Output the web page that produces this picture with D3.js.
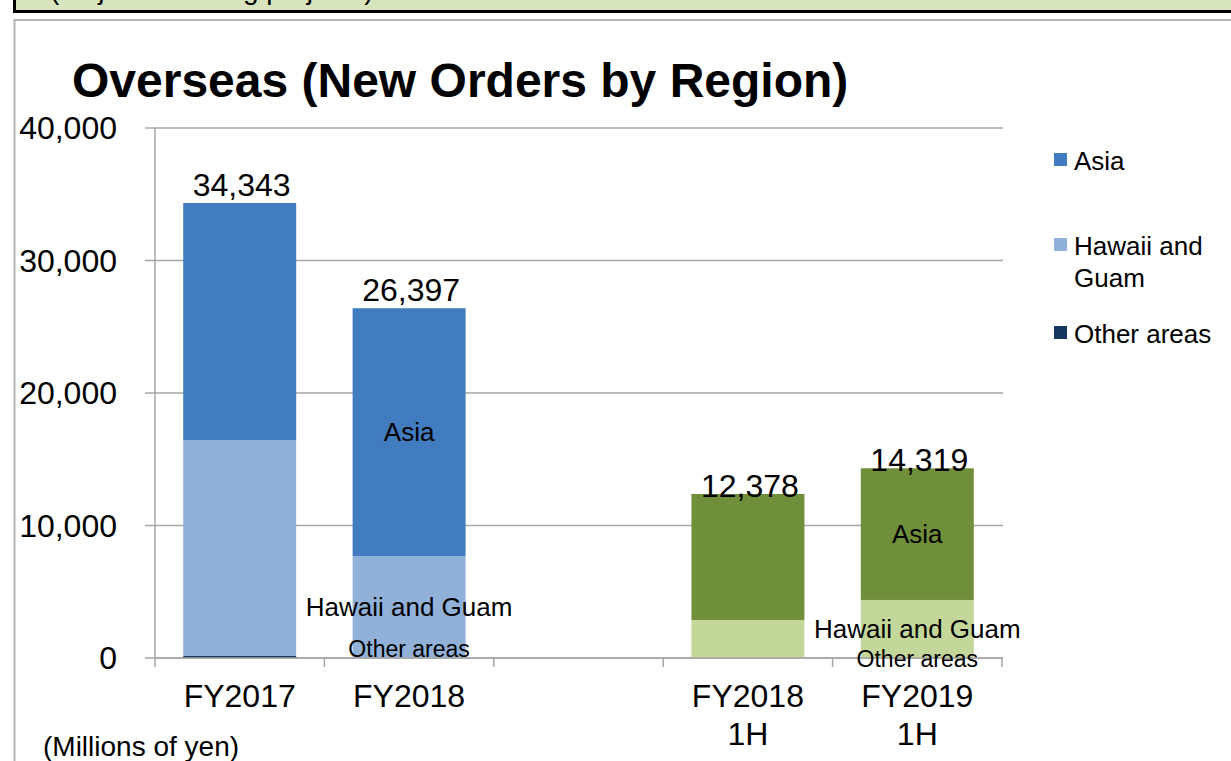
<!DOCTYPE html>
<html>
<head>
<meta charset="utf-8">
<script src="https://cdn.jsdelivr.net/npm/d3@7"></script>
<style>
  body { margin: 0; background: #fff; }
  text { font-family: "Liberation Sans", Arial, sans-serif; fill: #000; }
</style>
</head>
<body>
<div id="chart"></div>
<script>
// data (millions of yen)
const categories = ["FY2017", "FY2018", "gap", "FY2018 1H", "FY2019 1H"];
const categoryLabels = [["FY2017"], ["FY2018"], [], ["FY2018", "1H"], ["FY2019", "1H"]];
const asia = [17893, 18697, 0, 9508, 9939];
const hawaiiGuam = [16300, 7700, 0, 2870, 4380];
const otherAreas = [150, 0, 0, 0, 0];
const totals = [34343, 26397, null, 12378, 14319];
const yTicks = [0, 10000, 20000, 30000, 40000];
const seriesKeys = ["other", "hawaii", "asia"];
const seriesNames = { asia: "Asia", hawaii: "Hawaii and Guam", other: "Other areas" };
const labelledCategories = ["FY2018", "FY2019 1H"];

const W = 1231, H = 761;
const palette = {
  blue: { asia: "#407cbf", hawaii: "#92b1d9", other: "#17375e" },
  green: { asia: "#708f3a", hawaii: "#c3d79b", other: "#4f6228" }
};
const groupOf = c => c.includes("1H") ? "green" : "blue";

const svg = d3.select("#chart").append("svg")
  .attr("width", W).attr("height", H);

// slide frame bits: green strip above (its caption is mostly off-screen), gray panel border
svg.append("clipPath").attr("id", "stripClip")
  .append("rect").attr("x", 16).attr("y", 0).attr("width", W).attr("height", 10);
svg.append("rect")
  .attr("x", 14.5).attr("y", -10).attr("width", W + 50).attr("height", 21.5)
  .attr("fill", "#d7e4bd").attr("stroke", "#000").attr("stroke-width", 3);
svg.append("text")
  .attr("clip-path", "url(#stripClip)")
  .attr("x", 50).attr("y", -1.5)
  .style("font-size", "28px")
  .text("(Major role in big projects)");
svg.append("rect")
  .attr("x", 14.5).attr("y", 20).attr("width", W + 50).attr("height", H)
  .attr("fill", "none").attr("stroke", "#b3b3b3").attr("stroke-width", 2);

// scales
const x = d3.scaleBand().domain(categories).range([155, 1002])
  .paddingInner(0.333).paddingOuter(0.1665);
const y = d3.scaleLinear().domain([0, 40000]).range([658, 128]);

const rows = categories.map((c, i) => ({
  cat: c, asia: asia[i], hawaii: hawaiiGuam[i], other: otherAreas[i], total: totals[i]
}));
const stacked = d3.stack().keys(seriesKeys)(rows);

// gridlines + y axis
const gridColor = "#a6a6a6";
svg.append("g").selectAll("line").data(yTicks).join("line")
  .attr("x1", 145).attr("x2", 1003)
  .attr("y1", d => y(d)).attr("y2", d => y(d))
  .attr("stroke", gridColor).attr("stroke-width", 1.5);
svg.append("line")
  .attr("x1", 155).attr("x2", 155).attr("y1", y(40000)).attr("y2", y(0))
  .attr("stroke", gridColor).attr("stroke-width", 1.5);
svg.append("g").selectAll("text").data(yTicks).join("text")
  .attr("x", 117).attr("y", d => y(d))
  .attr("text-anchor", "end").attr("dominant-baseline", "central")
  .style("font-size", "32px")
  .text(d3.format(","));

// x axis ticks at slot boundaries
const slotEdges = categories.map(c => x(c) - (x.step() - x.bandwidth()) / 2);
slotEdges.push(slotEdges[slotEdges.length - 1] + x.step());
svg.append("g").selectAll("line").data(slotEdges).join("line")
  .attr("x1", d => d).attr("x2", d => d)
  .attr("y1", y(0)).attr("y2", y(0) + 9)
  .attr("stroke", gridColor).attr("stroke-width", 1.5);

// bars
svg.append("g").selectAll("g").data(stacked).join("g")
  .selectAll("rect").data(s => s.map(d => ({ key: s.key, d })))
  .join("rect")
  .attr("x", o => x(o.d.data.cat))
  .attr("width", x.bandwidth())
  .attr("y", o => y(o.d[1]))
  .attr("height", o => y(o.d[0]) - y(o.d[1]))
  .attr("fill", o => palette[groupOf(o.d.data.cat)][o.key]);

// x axis line on top of bars
svg.append("line")
  .attr("x1", 155).attr("x2", 1003).attr("y1", y(0)).attr("y2", y(0))
  .attr("stroke", gridColor).attr("stroke-width", 1.5);

// total labels
const totalDy = { blue: -7, green: 3 };
svg.append("g").selectAll("text").data(rows.filter(r => r.total != null)).join("text")
  .attr("x", r => x(r.cat) + x.bandwidth() / 2 + 2)
  .attr("y", r => y(r.total) + totalDy[groupOf(r.cat)])
  .attr("text-anchor", "middle")
  .style("font-size", "32px")
  .text(r => d3.format(",")(r.total));

// series labels inside the labelled bars
const otherDy = { "FY2018": -9, "FY2019 1H": 1 };
stacked.forEach(s => {
  s.filter(d => labelledCategories.includes(d.data.cat)).forEach(d => {
    const cat = d.data.cat;
    const mid = (y(d[0]) + y(d[1])) / 2 + (s.key === "other" ? otherDy[cat] : 0);
    svg.append("text")
      .attr("x", x(cat) + x.bandwidth() / 2)
      .attr("y", mid)
      .attr("text-anchor", "middle").attr("dominant-baseline", "central")
      .style("font-size", s.key === "other" ? "23px" : "26px")
      .text(seriesNames[s.key]);
  });
});

// category labels
svg.append("g").selectAll("text").data(categories).join("text")
  .attr("x", c => x(c) + x.bandwidth() / 2)
  .attr("y", 707)
  .attr("text-anchor", "middle")
  .style("font-size", "32px")
  .each(function (c, i) {
    d3.select(this).selectAll("tspan").data(categoryLabels[i]).join("tspan")
      .attr("x", x(c) + x.bandwidth() / 2)
      .attr("dy", (t, j) => j === 0 ? 0 : 38)
      .text(t => t);
  });

// title and unit
svg.append("text")
  .attr("x", 72).attr("y", 97)
  .style("font-size", "48px").style("font-weight", "bold")
  .text("Overseas (New Orders by Region)");
svg.append("text")
  .attr("x", 43).attr("y", 756)
  .style("font-size", "28px")
  .text("(Millions of yen)");

// legend
const legendItems = [
  { key: "asia", lines: ["Asia"], y: 170 },
  { key: "hawaii", lines: ["Hawaii and", "Guam"], y: 255 },
  { key: "other", lines: ["Other areas"], y: 343 }
];
const lg = svg.append("g").selectAll("g").data(legendItems).join("g");
lg.append("rect")
  .attr("x", 1054).attr("y", d => d.y - 17)
  .attr("width", 13).attr("height", 13)
  .attr("fill", d => palette.blue[d.key]);
lg.append("text")
  .attr("y", d => d.y)
  .style("font-size", "26px")
  .selectAll("tspan").data(d => d.lines).join("tspan")
  .attr("x", 1074)
  .attr("dy", (t, j) => j === 0 ? 0 : 32)
  .text(t => t);
</script>
</body>
</html>
